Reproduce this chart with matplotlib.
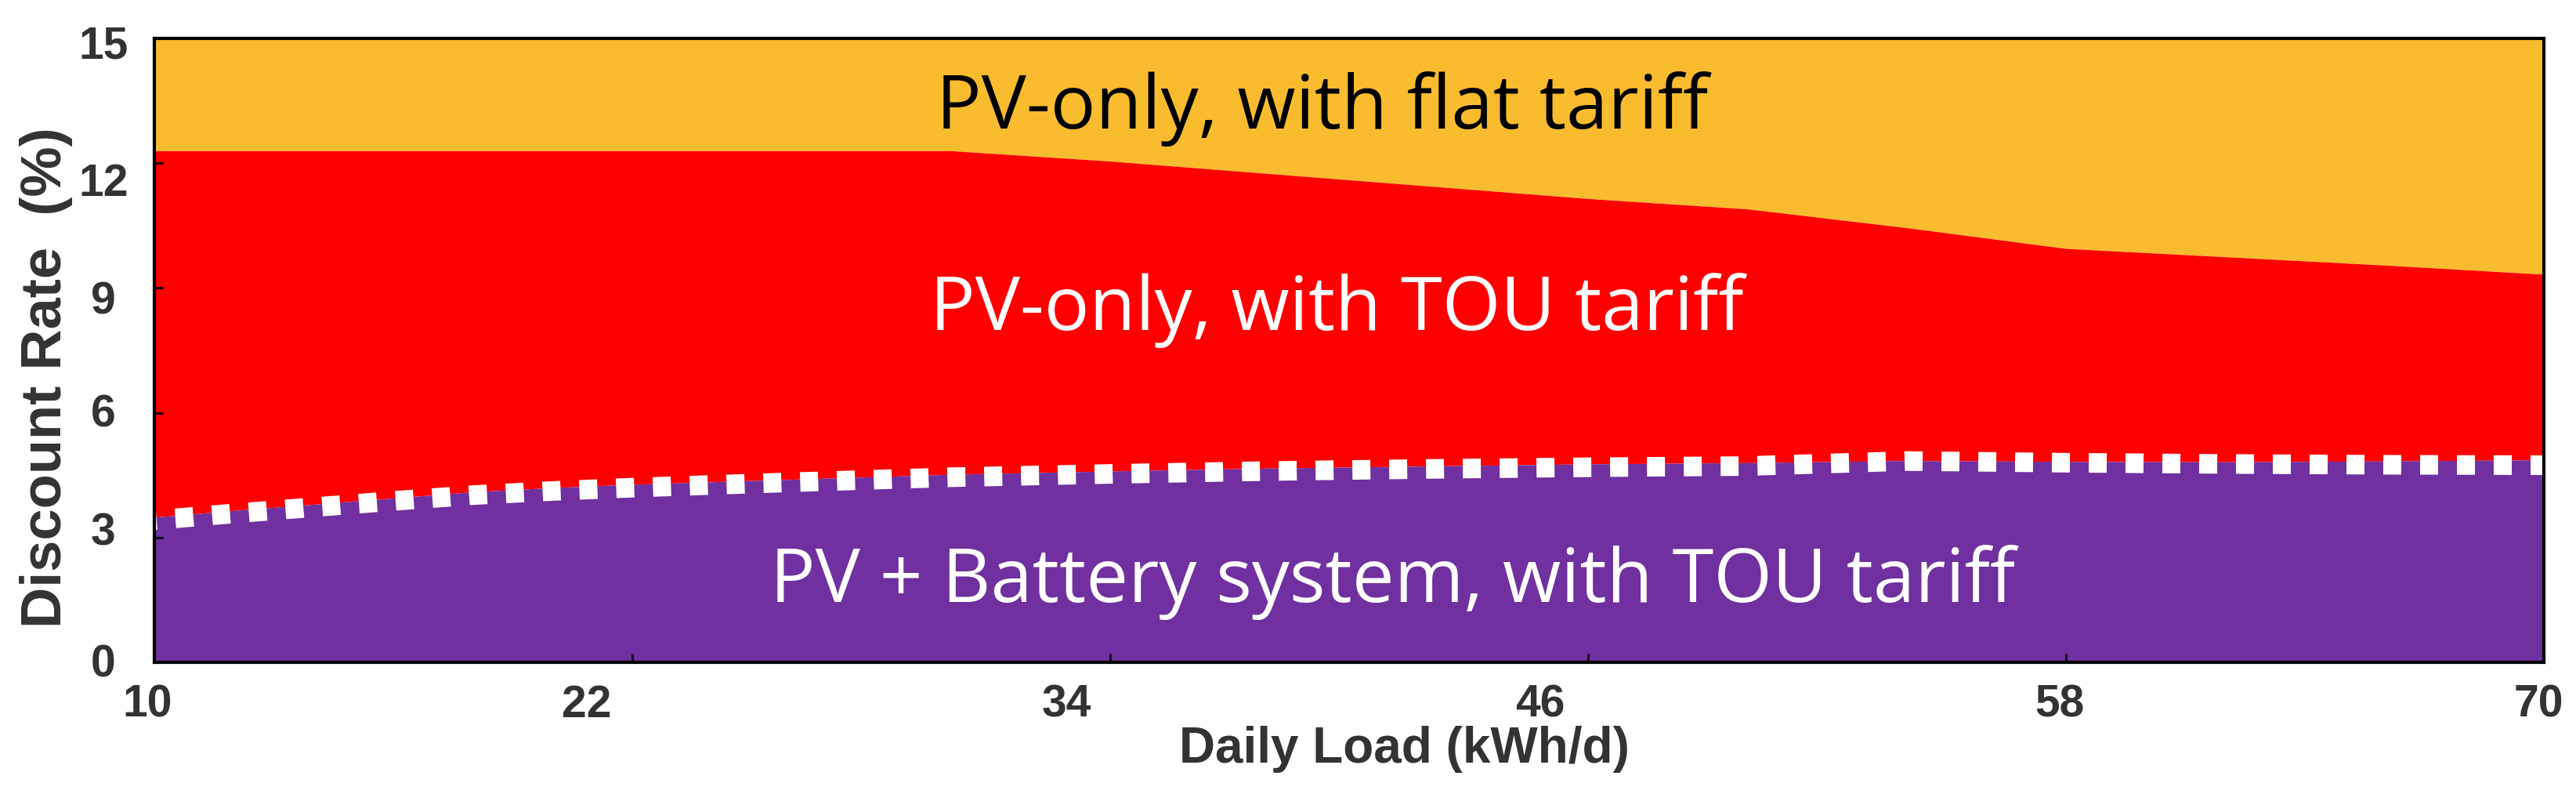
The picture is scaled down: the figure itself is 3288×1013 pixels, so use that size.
import matplotlib
matplotlib.use("Agg")
import matplotlib.pyplot as plt
from matplotlib.transforms import ScaledTranslation

# daily load (kWh/d)
load = [10, 12, 14, 16, 18, 20, 22, 26, 30, 34, 38, 42, 46, 50, 54, 58, 62, 66, 70]
# upper limit of the PV-only / TOU region (%)
tou_top = [12.3, 12.3, 12.3, 12.3, 12.3, 12.3, 12.3, 12.3, 12.3, 12.05, 11.75, 11.45,
           11.15, 10.9, 10.45, 9.95, 9.75, 9.55, 9.33]
# upper limit of the PV + battery / TOU region (%)
batt_top = [3.49, 3.65, 3.8, 3.95, 4.1, 4.2, 4.28, 4.4, 4.52, 4.6, 4.67, 4.72,
            4.77, 4.8, 4.85, 4.83, 4.82, 4.84, 4.87]
# dotted boundary line
batt_line = [3.42, 3.58, 3.73, 3.88, 4.02, 4.12, 4.2, 4.33, 4.45, 4.53, 4.6, 4.65,
             4.69, 4.72, 4.84, 4.8, 4.77, 4.75, 4.74]

y_max = 15
x_ticks = [10, 22, 34, 46, 58, 70]
y_ticks = [0, 3, 6, 9, 12, 15]

orange = "#F9BC2E"
red = "#FF0000"
purple = "#70309F"

fig = plt.figure(figsize=(32.88, 10.13), dpi=100)
ax = fig.add_axes([0.0599, 0.1658, 0.9276, 0.7858])

ax.fill_between(load, tou_top, y_max, color=orange, linewidth=0)
ax.fill_between(load, batt_top, tou_top, color=red, linewidth=0)
ax.fill_between(load, 0, batt_top, color=purple, linewidth=0)
ax.plot(load, batt_line, color="white", linewidth=18,
        linestyle=(0.8, (0.92, 0.96)), dash_capstyle="butt")

label_font = "Open Sans"
ax.text(39.33, 12.83, "PV-only, with flat tariff", color="black", fontsize=69,
        family=label_font, ha="center", va="baseline")
ax.text(39.7, 8.0, "PV-only, with TOU tariff", color="white", fontsize=69,
        family=label_font, ha="center", va="baseline")
ax.text(41.1, 1.45, "PV + Battery system, with TOU tariff", color="white", fontsize=69,
        family=label_font, ha="center", va="baseline")

ax.set_xlim(10, 70)
ax.set_ylim(0, y_max)
ax.set_xticks(x_ticks)
ax.set_yticks(y_ticks)
ax.tick_params(direction="in", length=8, width=2, labelsize=41)
ax.tick_params(axis="x", pad=20)
ax.tick_params(axis="y", pad=47)
for lab in ax.get_xticklabels() + ax.get_yticklabels():
    lab.set_fontweight("bold")
    lab.set_family("Liberation Sans")
    lab.set_color("#333333")

# the tick labels in the original sit a little off their ticks
x_shift = [-9, -58, -56, -61, -8, -7]
y_shift = [-3, -11, -3, 12, 21, 4]
for lab, dx in zip(ax.get_xticklabels(), x_shift):
    lab.set_transform(lab.get_transform() + ScaledTranslation(dx / 100, 0, fig.dpi_scale_trans))
for lab, dy in zip(ax.get_yticklabels(), y_shift):
    lab.set_ha("center")
    lab.set_transform(lab.get_transform() + ScaledTranslation(0, -dy / 100, fig.dpi_scale_trans))

for sp in ax.spines.values():
    sp.set_linewidth(3)
    sp.set_color("black")

ax.set_xlabel("Daily Load (kWh/d)", fontsize=46, fontweight="bold",
              family="Liberation Sans", color="#333333")
ax.xaxis.set_label_coords(0.523, -0.102)
ax.set_ylabel("Discount Rate  (%)", fontsize=52, fontweight="bold",
              family="Liberation Sans", color="#333333")
ax.yaxis.set_label_coords(-0.034, 0.456)

fig.savefig("out.png", dpi=100)
